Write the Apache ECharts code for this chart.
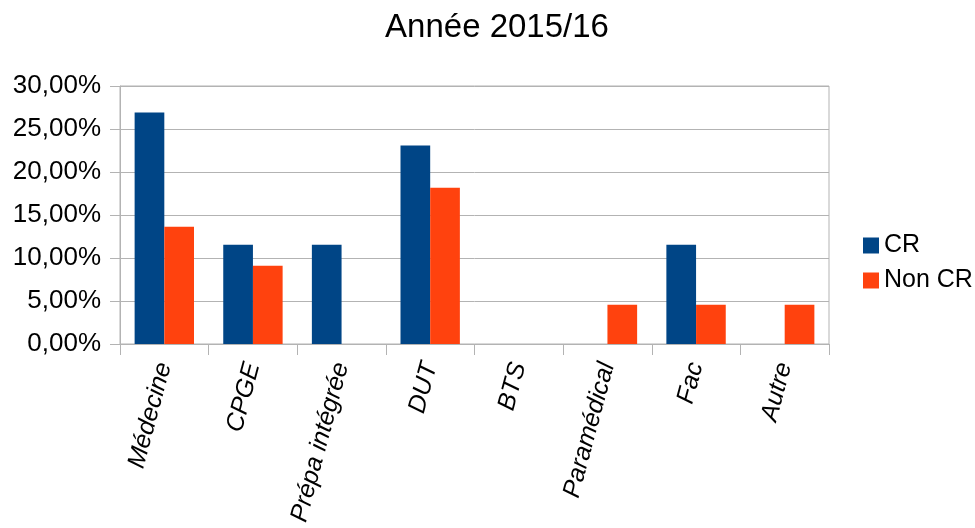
<!DOCTYPE html>
<html>
<head>
<meta charset="utf-8">
<script src="https://cdn.jsdelivr.net/npm/echarts@6/dist/echarts.min.js"></script>
<style>
  html, body { margin: 0; padding: 0; background: #fff; }
  #chart { width: 975px; height: 528px; }
</style>
</head>
<body>
<div id="chart"></div>
<script>
// data (share of students, %)
const categories = ["Médecine", "CPGE", "Prépa intégrée", "DUT", "BTS", "Paramédical", "Fac", "Autre"];
const crValues = [26.92, 11.54, 11.54, 23.08, 0, 0, 11.54, 0];
const nonCrValues = [13.64, 9.09, 0, 18.18, 0, 4.55, 4.55, 4.55];
const yTicks = { min: 0, max: 30, interval: 5 };

const font = "Liberation Sans";
const grey = "#b3b3b3";

const chart = echarts.init(document.getElementById('chart'));
chart.setOption({
  animation: false,
  textStyle: { fontFamily: font },
  title: {
    text: "Année 2015/16",
    left: 492,
    textAlign: "center",
    top: 6,
    textStyle: { fontFamily: font, fontSize: 33, fontWeight: "normal", color: "#000" }
  },
  legend: {
    orient: "vertical",
    left: 858,
    top: 228,
    itemWidth: 16,
    itemHeight: 16,
    itemGap: 10,
    icon: "rect",
    textStyle: { fontFamily: font, fontSize: 25, color: "#000", padding: [0, 0, 0, 0] },
    data: ["CR", "Non CR"]
  },
  grid: {
    left: 120,
    right: 146,
    top: 86,
    bottom: 184,
    show: true,
    borderColor: grey,
    borderWidth: 1,
    containLabel: false
  },
  xAxis: {
    type: "category",
    data: categories,
    boundaryGap: true,
    axisLine: { lineStyle: { color: grey } },
    axisTick: { show: true, length: 11, lineStyle: { color: grey } },
    axisLabel: {
      rotate: 75,
      margin: 19,
      interval: 0,
      fontFamily: font,
      fontSize: 25,
      fontStyle: "italic",
      color: "#000"
    },
    splitLine: { show: false }
  },
  yAxis: {
    type: "value",
    min: yTicks.min,
    max: yTicks.max,
    interval: yTicks.interval,
    axisLine: { show: true, lineStyle: { color: grey } },
    axisTick: { show: true, length: 10, lineStyle: { color: grey } },
    axisLabel: {
      margin: 19,
      fontFamily: font,
      fontSize: 26,
      color: "#000",
      formatter: function (v) { return v.toFixed(2).replace('.', ',') + '%'; }
    },
    splitLine: { lineStyle: { color: grey } }
  },
  series: [
    {
      name: "CR",
      type: "bar",
      data: crValues,
      barGap: "0%",
      barCategoryGap: "33%",
      itemStyle: { color: "#004586" }
    },
    {
      name: "Non CR",
      type: "bar",
      data: nonCrValues,
      itemStyle: { color: "#ff420e" }
    }
  ]
});
</script>
</body>
</html>
